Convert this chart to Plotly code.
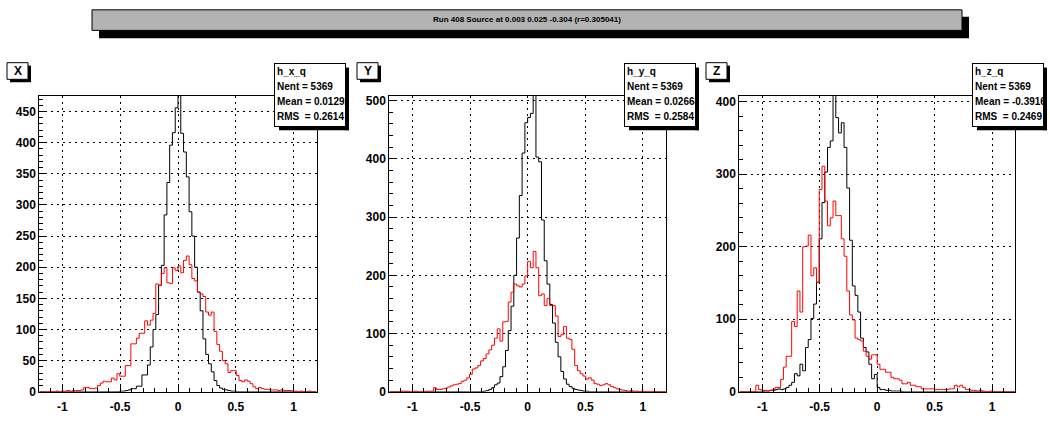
import numpy as np
import plotly.graph_objects as go

# ---------------- data ----------------
nbins = 100
xmin, xmax = -1.2, 1.2

titles = ["X", "Y", "Z"]
hist_names = ["h_x_q", "h_y_q", "h_z_q"]
nent = [5369, 5369, 5369]
means = ["0.01292", "0.02668", "-0.3916"]
rmss = ["0.2614", "0.2584", "0.2469"]
main_title = "Run 408 Source at 0.003 0.025 -0.304 (r=0.305041)"

# panel X
x_black = [0]*25 + [0, 0, 0, 0, 1,
                    1, 2, 3, 5, 5, 9, 9, 27, 27, 43,
                    72, 100, 124, 171, 203, 284, 336, 396, 416, 456,
                    520, 415, 385, 345, 289, 250, 200, 160, 130, 85,
                    60, 45, 32, 18, 10, 6, 4, 3, 2, 1,
                    1] + [0]*29
x_red = [0, 0, 0, 0, 0, 0, 1, 0, 1, 1,
         2, 1, 2, 2, 2, 3, 7, 7, 5, 5,
         6, 10, 14, 17, 16, 16, 22, 19, 29, 25,
         25, 42, 42, 77, 77, 86, 94, 94, 114, 107,
         115, 126, 173, 171, 190, 199, 175, 174, 199, 195,
         202, 191, 211, 218, 204, 182, 178, 160, 157, 153,
         128, 123, 128, 97, 76, 65, 50, 45, 31, 34,
         34, 26, 18, 16, 19, 17, 13, 8, 5, 7,
         5, 4, 4, 3, 3, 3, 2, 3, 2, 2,
         2, 1, 1, 0, 1, 0, 0, 1, 0, 0]

# panel Y
y_black = [0]*34 + [1, 2, 4, 7, 12, 15, 26, 43, 71, 105,
                    147, 200, 264, 337, 410, 462, 471, 478, 530, 403,
                    395, 295, 225, 185, 150, 118, 85, 60, 35, 22,
                    13, 9, 6, 4, 3, 2, 1, 1] + [0]*28
y_red = [0, 0, 0, 0, 1, 1, 1, 0, 0, 1,
         0, 0, 0, 1, 1, 1, 7, 4, 4, 5,
         6, 8, 10, 12, 13, 14, 18, 20, 24, 30,
         39, 41, 45, 53, 57, 65, 72, 80, 92, 108,
         87, 120, 121, 154, 171, 185, 182, 180, 185, 199,
         224, 213, 241, 213, 165, 168, 148, 160, 148, 148,
         130, 95, 98, 112, 92, 90, 73, 45, 36, 31,
         27, 22, 24, 20, 14, 13, 11, 12, 14, 12,
         9, 7, 5, 4, 3, 2, 1, 2, 1, 1,
         0, 1, 0, 0, 0, 0, 0, 0, 0, 0]

# panel Z
z_black = [0, 0, 0, 0, 0, 0, 0, 0, 0, 1,
           1, 2, 2, 3, 4, 3, 4, 6, 9, 13,
           25, 22, 38, 29, 61, 72, 101, 121, 151, 211,
           261, 303, 337, 346, 430, 378, 357, 371, 337, 281,
           209, 146, 133, 110, 74, 61, 55, 38, 18, 24,
           6, 3, 3, 2, 2, 1, 1, 1, 1, 0] + [0]*40
z_red = [0, 0, 0, 0, 0, 0, 9, 3, 2, 2,
         1, 2, 3, 6, 6, 17, 34, 49, 49, 97,
         90, 139, 110, 200, 201, 216, 160, 171, 151, 279,
         311, 263, 229, 240, 263, 243, 243, 211, 187, 139,
         106, 99, 74, 72, 70, 56, 49, 45, 51, 51,
         38, 31, 31, 27, 27, 20, 18, 18, 16, 11,
         11, 13, 9, 9, 7, 7, 4, 4, 4, 4,
         4, 3, 3, 3, 3, 3, 4, 4, 9, 7,
         9, 6, 3, 3, 2, 2, 1, 2, 1, 0,
         0, 1, 0, 0, 0, 0, 0, 0, 0, 0]

blacks = [x_black, y_black, z_black]
reds = [x_red, y_red, z_red]

y_ranges = [[0, 475], [0, 508], [0, 408]]
y_dticks = [50, 100, 100]
y_minor = [10, 20, 20]
x_ticks = [-1, -0.5, 0, 0.5, 1]
x_ticktext = ["-1", "-0.5", "0", "0.5", "1"]

# ---------------- layout helpers ----------------
W, H = 1050, 421
FONT = "Liberation Sans Narrow, Arial Narrow, Liberation Sans, Arial, sans-serif"


def px(x):
    return x / W


def py(y):
    return 1 - y / H


panel_px = [(39.3, 316.7), (389.3, 666.0), (739.3, 1015.0)]
plot_top, plot_bot = 96.0, 398.3
label_left = [7, 357, 706]
stats_left = [275, 625, 973]
stats_top, stats_bot, stats_w = 63, 127, 70
stats_rows_px = [72, 87.5, 103, 118.5]

edges = np.linspace(xmin, xmax, nbins + 1)

fig = go.Figure()
layout = dict(
    width=W, height=H, margin=dict(l=0, r=0, t=0, b=0),
    paper_bgcolor="white", plot_bgcolor="white", showlegend=False,
)
shapes = []
annotations = []
bold12 = dict(family=FONT, size=12, color="black", weight="bold")
bold_stats = dict(family=FONT, size=10, color="black", weight="bold")

for k in range(3):
    xa = "x" if k == 0 else f"x{k+1}"
    ya = "y" if k == 0 else f"y{k+1}"
    for counts, col in ((blacks[k], "black"), (reds[k], "red")):
        fig.add_trace(go.Scatter(
            x=edges, y=list(counts) + [counts[-1]], mode="lines",
            line=dict(color=col, width=1, shape="hv"),
            xaxis=xa, yaxis=ya, hoverinfo="skip"))

    l, r = panel_px[k]
    axis_common = dict(
        showline=True, mirror=True, linecolor="black", linewidth=1,
        showgrid=True, gridcolor="black", gridwidth=1, griddash="2px,4px",
        zeroline=False, ticks="inside", ticklen=8, tickcolor="black",
        tickfont=bold12,
    )
    layout["xaxis" if k == 0 else f"xaxis{k+1}"] = dict(
        axis_common, domain=[px(l), px(r)], range=[xmin, xmax],
        tickvals=x_ticks, ticktext=x_ticktext, anchor=ya,
        ticklabelstandoff=4,
        minor=dict(dtick=0.1, tick0=0, ticks="inside", ticklen=4,
                   tickcolor="black", showgrid=False),
    )
    layout["yaxis" if k == 0 else f"yaxis{k+1}"] = dict(
        axis_common, domain=[py(plot_bot), py(plot_top)], range=y_ranges[k],
        dtick=y_dticks[k], tick0=0, anchor=xa,
        minor=dict(dtick=y_minor[k], tick0=0, ticks="inside", ticklen=4,
                   tickcolor="black", showgrid=False),
    )

    # panel label box with shadow
    lx = label_left[k]
    shapes.append(dict(type="rect", xref="paper", yref="paper",
                       x0=px(lx + 3), x1=px(lx + 24), y0=py(82), y1=py(65),
                       fillcolor="black", line=dict(width=0), layer="above"))
    shapes.append(dict(type="rect", xref="paper", yref="paper",
                       x0=px(lx), x1=px(lx + 21), y0=py(79), y1=py(62),
                       fillcolor="white", line=dict(color="black", width=1),
                       layer="above"))
    annotations.append(dict(xref="paper", yref="paper", x=px(lx + 10.5),
                            y=py(70.5), text=titles[k], showarrow=False,
                            xanchor="center", yanchor="middle", font=bold12))

    # stats box: its own small subplot so the text is clipped at the box edge
    sx = stats_left[k]
    sxa, sya = f"x{k+4}", f"y{k+4}"
    box_axis = dict(range=[0, 1], showline=True, mirror=True,
                    linecolor="black", linewidth=1, showgrid=False,
                    zeroline=False, showticklabels=False, ticks="",
                    fixedrange=True)
    layout[f"xaxis{k+4}"] = dict(box_axis, domain=[px(sx), px(sx + stats_w)],
                                 anchor=sya)
    layout[f"yaxis{k+4}"] = dict(box_axis,
                                 domain=[py(stats_bot), py(stats_top)],
                                 anchor=sxa)
    lines = [hist_names[k],
             f"Nent = {nent[k]}",
             f"Mean\u00a0= {means[k]}",
             f"RMS\u00a0\u00a0= {rmss[k]}"]
    ypos = [(stats_bot - yy) / (stats_bot - stats_top) for yy in stats_rows_px]
    fig.add_trace(go.Scatter(
        x=[2.0 / stats_w] * len(lines), y=ypos, text=lines, mode="text",
        textposition="middle right", textfont=bold_stats, cliponaxis=True,
        xaxis=sxa, yaxis=sya, hoverinfo="skip"))
    # shadow strips (right and bottom)
    shapes.append(dict(type="rect", xref="paper", yref="paper",
                       x0=px(sx + stats_w), x1=px(sx + stats_w + 4),
                       y0=py(stats_bot + 4), y1=py(stats_top + 4),
                       fillcolor="black", line=dict(width=0), layer="above"))
    shapes.append(dict(type="rect", xref="paper", yref="paper",
                       x0=px(sx + 4), x1=px(sx + stats_w + 4),
                       y0=py(stats_bot + 4), y1=py(stats_bot),
                       fillcolor="black", line=dict(width=0), layer="above"))

# title box with shadow
shapes.insert(0, dict(type="rect", xref="paper", yref="paper",
                      x0=px(99), x1=px(969), y0=py(37), y1=py(15),
                      fillcolor="black", line=dict(width=0), layer="above"))
shapes.insert(1, dict(type="rect", xref="paper", yref="paper",
                      x0=px(92), x1=px(962), y0=py(29), y1=py(8),
                      fillcolor="#b3b3b3", line=dict(color="black", width=1),
                      layer="above"))
annotations.append(dict(xref="paper", yref="paper", x=px(527), y=py(18),
                        text=main_title, showarrow=False, xanchor="center",
                        yanchor="middle",
                        font=dict(family=FONT, size=8, color="black",
                                  weight="bold")))

layout["shapes"] = shapes
layout["annotations"] = annotations
fig.update_layout(**layout)
fig.write_html("out.html")
